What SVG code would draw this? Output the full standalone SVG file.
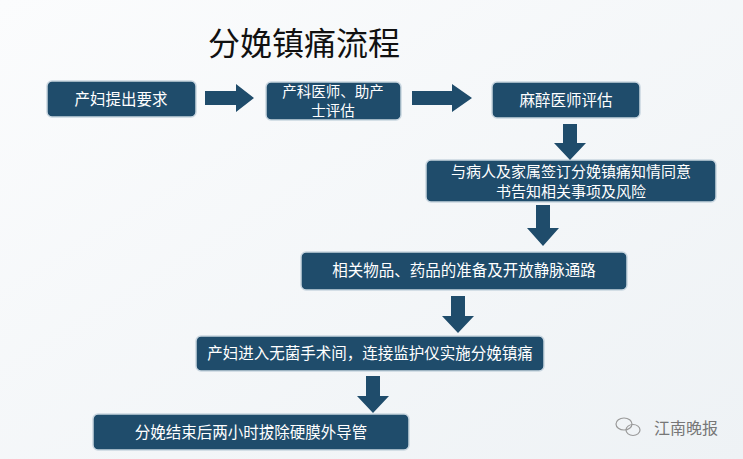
<svg xmlns="http://www.w3.org/2000/svg" width="743" height="459" viewBox="0 0 743 459">
<style>
.b{fill:#1f4c6b;stroke:#c9d6e0;stroke-width:1.5}
.t{fill:#fff;font-family:"Noto Sans CJK SC",sans-serif;font-size:15.5px;text-anchor:middle}
.a{fill:#1f4c6b}
</style>
<defs><linearGradient id="bg" x1="0" y1="0" x2="1" y2="1"><stop offset="0" stop-color="#fbfcfd"/><stop offset="1" stop-color="#eef2f5"/></linearGradient></defs>
<rect width="743" height="459" fill="url(#bg)"/>
<text x="304" y="55" font-family="Noto Sans CJK SC,sans-serif" font-size="32" text-anchor="middle" fill="#111">分娩镇痛流程</text>
<g id="n1"><rect class="b" x="47" y="81" width="149" height="36" rx="5"/><text class="t" x="121" y="105">产妇提出要求</text></g>
<g id="n2"><rect class="b" x="266" y="82" width="135" height="38" rx="5"/><text class="t" x="333" y="97" style="font-size:14.5px">产科医师、助产</text><text class="t" x="333" y="116" style="font-size:14.5px">士评估</text></g>
<g id="n3"><rect class="b" x="492" y="82" width="148" height="36" rx="5"/><text class="t" x="566" y="106">麻醉医师评估</text></g>
<g id="n4"><rect class="b" x="426" y="160" width="290" height="42" rx="5"/><text class="t" x="571" y="177" style="font-size:15px">与病人及家属签订分娩镇痛知情同意</text><text class="t" x="571" y="197" style="font-size:15px">书告知相关事项及风险</text></g>
<g id="n5"><rect class="b" x="301" y="252" width="326" height="38" rx="5"/><text class="t" x="464" y="276">相关物品、药品的准备及开放静脉通路</text></g>
<g id="n6"><rect class="b" x="196" y="336" width="348" height="35" rx="5"/><text class="t" x="370" y="359">产妇进入无菌手术间，连接监护仪实施分娩镇痛</text></g>
<g id="n7"><rect class="b" x="93" y="414" width="316" height="36" rx="5"/><text class="t" x="251" y="438">分娩结束后两小时拔除硬膜外导管</text></g>
<g id="connectors">
<polygon class="a" points="205,91 236,91 236,84 254,98 236,112 236,105 205,105"/>
<polygon class="a" points="412,91 452,91 452,84 472,98 452,112 452,105 412,105"/>
<polygon class="a" points="563,124 577,124 577,143 586,143 570,160 554,143 563,143"/>
<polygon class="a" points="536,205 550,205 550,228 559,228 543,246 527,228 536,228"/>
<polygon class="a" points="451,296 465,296 465,316 474,316 458,333 442,316 451,316"/>
<polygon class="a" points="366,376 380,376 380,396 389,396 373,413 357,396 366,396"/>
</g>
<g fill="none" stroke="#999" stroke-width="1.2"><ellipse cx="624" cy="424" rx="8" ry="6"/><ellipse cx="633" cy="430" rx="7" ry="5.5"/></g>
<text x="686" y="434" font-family="Noto Sans CJK SC,sans-serif" font-size="16" text-anchor="middle" fill="#777">江南晚报</text>
</svg>
